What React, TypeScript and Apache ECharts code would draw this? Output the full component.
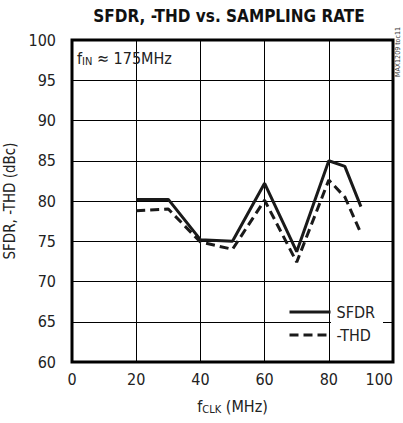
import React, { useEffect, useRef } from "react";
import * as echarts from "echarts";

const fclk = [20, 30, 40, 50, 60, 70, 80, 85, 90];
const sfdr = [80.2, 80.2, 75.2, 75.0, 82.2, 73.7, 85.0, 84.3, 79.3];
const thd = [78.8, 79.0, 74.9, 74.0, 80.1, 72.4, 82.6, 80.5, 76.0];
const seriesNames = ["SFDR", "-THD"];
const FONT = "'DejaVu Sans Condensed', 'Liberation Sans', Arial, sans-serif";

export default function App() {
  const ref = useRef<HTMLDivElement>(null);
  useEffect(() => {
    document.body.style.margin = "0";
    const chart = echarts.init(ref.current!, null, { renderer: "svg" });
    chart.setOption({
      animation: false,
      backgroundColor: "#ffffff",
      textStyle: { fontFamily: FONT, color: "#222" },
      grid: {
        left: 72,
        top: 40,
        right: 10,
        bottom: 61,
        show: true,
        borderColor: "#000",
        borderWidth: 3,
        containLabel: false,
        outerBoundsMode: "none",
      },
      xAxis: {
        type: "value",
        min: 0,
        max: 100,
        interval: 20,
        axisLine: { show: false },
        axisTick: { show: false },
        splitLine: { show: true, lineStyle: { color: "#000", width: 1 } },
        axisLabel: { fontSize: 16, color: "#222", margin: 9, fontFamily: FONT, alignMaxLabel: "right" },
        name: "f{sub|CLK} (MHz)",
        nameLocation: "middle",
        nameGap: 35,
        nameTextStyle: {
          fontSize: 16,
          color: "#222",
          fontFamily: FONT,
          rich: { sub: { fontSize: 11, padding: [7, 0, 0, 0], fontFamily: FONT, color: "#222" } },
        },
      },
      yAxis: {
        type: "value",
        min: 60,
        max: 100,
        interval: 5,
        axisLine: { show: false },
        axisTick: { show: false },
        splitLine: { show: true, lineStyle: { color: "#000", width: 1 } },
        axisLabel: { fontSize: 16, color: "#222", margin: 16, fontFamily: FONT },
        name: "SFDR, -THD (dBc)",
        nameLocation: "middle",
        nameGap: 48,
        nameTextStyle: { fontSize: 15, color: "#222", fontFamily: FONT },
      },
      legend: {
        data: seriesNames,
        orient: "vertical",
        left: 288,
        top: 304,
        padding: 0,
        itemWidth: 41,
        itemHeight: 14,
        itemGap: 7,
        itemStyle: { opacity: 0 },
        lineStyle: { width: 3 },
        textStyle: { fontSize: 16, color: "#222", fontFamily: FONT, padding: [0, 0, 0, 1] },
      },
      graphic: [
        {
          type: "rect",
          z: 1,
          shape: { x: 331, y: 300, width: 52, height: 44 },
          style: { fill: "#fff" },
        },
        {
          type: "text",
          x: 229,
          y: 16,
          style: {
            text: "SFDR, -THD vs. SAMPLING RATE",
            font: `bold 17px ${FONT}`,
            fill: "#111",
            align: "center",
            verticalAlign: "middle",
          },
        },
        {
          type: "text",
          x: 77,
          y: 58,
          z: 5,
          style: {
            text: "f{sub|IN} ≈ 175MHz",
            font: `16px ${FONT}`,
            fill: "#222",
            verticalAlign: "middle",
            rich: { sub: { fontSize: 11, padding: [7, 0, 0, 0], fontFamily: FONT, fill: "#222" } },
          },
        },
        {
          type: "text",
          x: 398,
          y: 52,
          rotation: Math.PI / 2,
          style: {
            text: "MAX1209 toc11",
            font: `7px ${FONT}`,
            fill: "#333",
            align: "center",
            verticalAlign: "middle",
          },
        },
      ],
      series: [
        {
          name: seriesNames[0],
          type: "line",
          data: fclk.map((x, i) => [x, sfdr[i]]),
          symbol: "none",
          lineStyle: { color: "#1a1a1a", width: 3 },
          itemStyle: { color: "#1a1a1a" },
        },
        {
          name: seriesNames[1],
          type: "line",
          data: fclk.map((x, i) => [x, thd[i]]),
          symbol: "none",
          lineStyle: { color: "#1a1a1a", width: 3, type: [9, 5] },
          itemStyle: { color: "#1a1a1a" },
        },
      ],
    });
    return () => chart.dispose();
  }, []);
  return <div ref={ref} style={{ width: 403, height: 423 }} />;
}
